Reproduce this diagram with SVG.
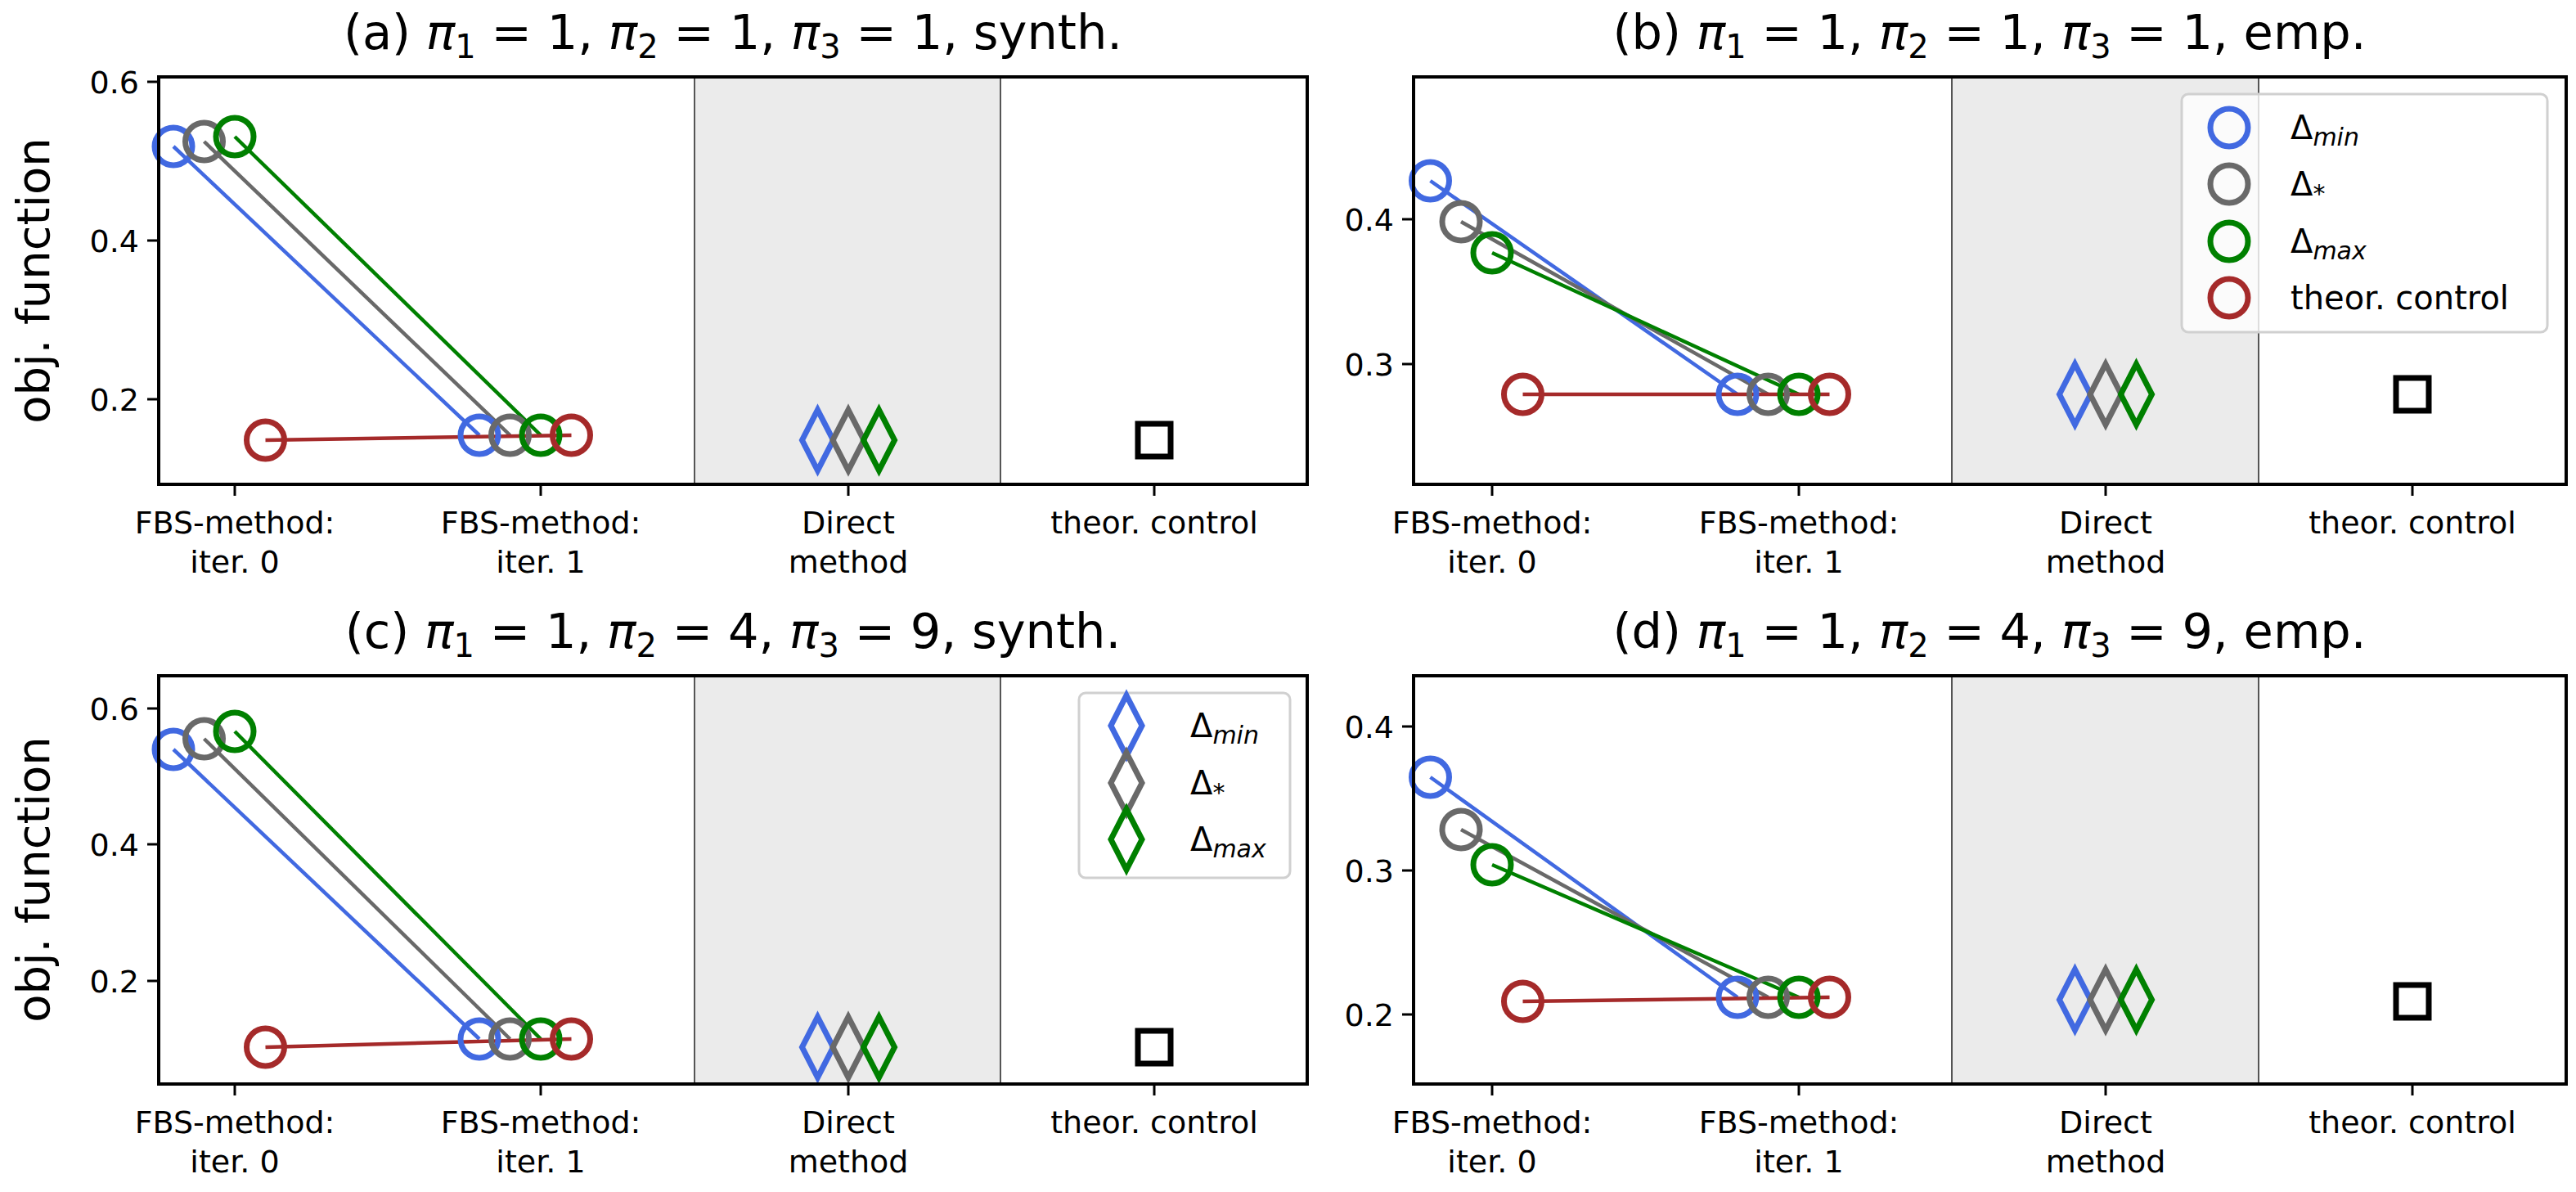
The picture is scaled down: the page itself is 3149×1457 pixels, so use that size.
<svg xmlns="http://www.w3.org/2000/svg" width="3149" height="1457" viewBox="0 0 3149 1457">
<style>
text{font-family:"DejaVu Sans","Liberation Sans",sans-serif;fill:#000}
.title{font-size:59px;text-anchor:middle}
.tick{font-size:38px}
.yt{text-anchor:end}
.xt{text-anchor:middle}
.ylab{font-size:56px;text-anchor:middle}
.leg{font-size:40px}
.spine{fill:none;stroke:#000;stroke-width:4}
.tk{stroke:#000;stroke-width:3}
.band{fill:#ebebeb}
.vl{stroke:#555;stroke-width:2}
.ln{stroke-width:4.5;fill:none}
.mk{fill:none;stroke-width:7}
.b{stroke:#4169E1}.g{stroke:#696969}.gr{stroke:#008000}.r{stroke:#A52A2A}.k{stroke:#000}
.lbox{fill:#fff;fill-opacity:0.8;stroke:#d0d0d0;stroke-width:3}
</style>
<defs>
<circle id="c" r="23"/>
<path id="d" d="M0,-37 L19,0 L0,37 L-19,0Z"/>
<rect id="s" x="-20" y="-20" width="40" height="40"/>
</defs>
<rect width="3149" height="1457" fill="#fff"/>

<g id="panel-a">
<rect class="band" x="849" y="94" width="374" height="498"/>
<line class="vl" x1="849" y1="94" x2="849" y2="592"/><line class="vl" x1="1223" y1="94" x2="1223" y2="592"/>
<text class="title" x="896" y="60">(a) <tspan font-style="italic">π</tspan><tspan font-size="40" dy="11">1</tspan><tspan dy="-11"> = 1, </tspan><tspan font-style="italic">π</tspan><tspan font-size="40" dy="11">2</tspan><tspan dy="-11"> = 1, </tspan><tspan font-style="italic">π</tspan><tspan font-size="40" dy="11">3</tspan><tspan dy="-11"> = 1,  synth.</tspan></text>
<g class="tick yt"><text x="170" y="114">0.6</text><text x="170" y="308">0.4</text><text x="170" y="502">0.2</text></g>
<line class="tk" x1="180" y1="100" x2="194" y2="100"/><line class="tk" x1="180" y1="294" x2="194" y2="294"/><line class="tk" x1="180" y1="488" x2="194" y2="488"/>
<text class="ylab" transform="translate(60,343) rotate(-90)">obj. function</text>
<g class="tick xt"><text x="287" y="652">FBS-method:</text><text x="287" y="700">iter. 0</text><text x="661" y="652">FBS-method:</text><text x="661" y="700">iter. 1</text><text x="1037" y="652">Direct</text><text x="1037" y="700">method</text><text x="1411" y="652">theor. control</text></g>
<line class="tk" x1="287" y1="592" x2="287" y2="606"/><line class="tk" x1="661" y1="592" x2="661" y2="606"/><line class="tk" x1="1037" y1="592" x2="1037" y2="606"/><line class="tk" x1="1411" y1="592" x2="1411" y2="606"/>
<use href="#d" class="mk b" x="999.5" y="538" stroke-width="4.5"/><use href="#d" class="mk g" x="1037" y="538" stroke-width="4.5"/><use href="#d" class="mk gr" x="1074.5" y="538" stroke-width="4.5"/>
<use href="#s" class="mk k" x="1411" y="538" stroke-width="7"/>
</g>

<g id="panel-b">
<rect class="band" x="2386" y="94" width="375" height="498"/>
<line class="vl" x1="2386" y1="94" x2="2386" y2="592"/><line class="vl" x1="2761" y1="94" x2="2761" y2="592"/>
<text class="title" x="2432" y="60">(b) <tspan font-style="italic">π</tspan><tspan font-size="40" dy="11">1</tspan><tspan dy="-11"> = 1, </tspan><tspan font-style="italic">π</tspan><tspan font-size="40" dy="11">2</tspan><tspan dy="-11"> = 1, </tspan><tspan font-style="italic">π</tspan><tspan font-size="40" dy="11">3</tspan><tspan dy="-11"> = 1,  emp.</tspan></text>
<g class="tick yt"><text x="1704" y="282">0.4</text><text x="1704" y="459">0.3</text></g>
<line class="tk" x1="1714" y1="268" x2="1728" y2="268"/><line class="tk" x1="1714" y1="445" x2="1728" y2="445"/>
<g class="tick xt"><text x="1824" y="652">FBS-method:</text><text x="1824" y="700">iter. 0</text><text x="2199" y="652">FBS-method:</text><text x="2199" y="700">iter. 1</text><text x="2574" y="652">Direct</text><text x="2574" y="700">method</text><text x="2949" y="652">theor. control</text></g>
<line class="tk" x1="1824" y1="592" x2="1824" y2="606"/><line class="tk" x1="2199" y1="592" x2="2199" y2="606"/><line class="tk" x1="2574" y1="592" x2="2574" y2="606"/><line class="tk" x1="2949" y1="592" x2="2949" y2="606"/>
<use href="#d" class="mk b" x="2536.5" y="482" stroke-width="4.5"/><use href="#d" class="mk g" x="2574" y="482" stroke-width="4.5"/><use href="#d" class="mk gr" x="2611.5" y="482" stroke-width="4.5"/>
<use href="#s" class="mk k" x="2949" y="482" stroke-width="7"/>
</g>

<g id="panel-c">
<rect class="band" x="849" y="826" width="374" height="499"/>
<line class="vl" x1="849" y1="826" x2="849" y2="1325"/><line class="vl" x1="1223" y1="826" x2="1223" y2="1325"/>
<text class="title" x="896" y="792">(c) <tspan font-style="italic">π</tspan><tspan font-size="40" dy="11">1</tspan><tspan dy="-11"> = 1, </tspan><tspan font-style="italic">π</tspan><tspan font-size="40" dy="11">2</tspan><tspan dy="-11"> = 4, </tspan><tspan font-style="italic">π</tspan><tspan font-size="40" dy="11">3</tspan><tspan dy="-11"> = 9,  synth.</tspan></text>
<g class="tick yt"><text x="170" y="880">0.6</text><text x="170" y="1046">0.4</text><text x="170" y="1213">0.2</text></g>
<line class="tk" x1="180" y1="866" x2="194" y2="866"/><line class="tk" x1="180" y1="1032" x2="194" y2="1032"/><line class="tk" x1="180" y1="1199" x2="194" y2="1199"/>
<text class="ylab" transform="translate(60,1075) rotate(-90)">obj. function</text>
<g class="tick xt"><text x="287" y="1385">FBS-method:</text><text x="287" y="1433">iter. 0</text><text x="661" y="1385">FBS-method:</text><text x="661" y="1433">iter. 1</text><text x="1037" y="1385">Direct</text><text x="1037" y="1433">method</text><text x="1411" y="1385">theor. control</text></g>
<line class="tk" x1="287" y1="1325" x2="287" y2="1339"/><line class="tk" x1="661" y1="1325" x2="661" y2="1339"/><line class="tk" x1="1037" y1="1325" x2="1037" y2="1339"/><line class="tk" x1="1411" y1="1325" x2="1411" y2="1339"/>
<use href="#d" class="mk b" x="999.5" y="1280" stroke-width="4.5"/><use href="#d" class="mk g" x="1037" y="1280" stroke-width="4.5"/><use href="#d" class="mk gr" x="1074.5" y="1280" stroke-width="4.5"/>
<use href="#s" class="mk k" x="1411" y="1280" stroke-width="7"/>
</g>

<g id="panel-d">
<rect class="band" x="2386" y="826" width="375" height="499"/>
<line class="vl" x1="2386" y1="826" x2="2386" y2="1325"/><line class="vl" x1="2761" y1="826" x2="2761" y2="1325"/>
<text class="title" x="2432" y="792">(d) <tspan font-style="italic">π</tspan><tspan font-size="40" dy="11">1</tspan><tspan dy="-11"> = 1, </tspan><tspan font-style="italic">π</tspan><tspan font-size="40" dy="11">2</tspan><tspan dy="-11"> = 4, </tspan><tspan font-style="italic">π</tspan><tspan font-size="40" dy="11">3</tspan><tspan dy="-11"> = 9,  emp.</tspan></text>
<g class="tick yt"><text x="1704" y="902">0.4</text><text x="1704" y="1078">0.3</text><text x="1704" y="1254">0.2</text></g>
<line class="tk" x1="1714" y1="888" x2="1728" y2="888"/><line class="tk" x1="1714" y1="1064" x2="1728" y2="1064"/><line class="tk" x1="1714" y1="1240" x2="1728" y2="1240"/>
<g class="tick xt"><text x="1824" y="1385">FBS-method:</text><text x="1824" y="1433">iter. 0</text><text x="2199" y="1385">FBS-method:</text><text x="2199" y="1433">iter. 1</text><text x="2574" y="1385">Direct</text><text x="2574" y="1433">method</text><text x="2949" y="1385">theor. control</text></g>
<line class="tk" x1="1824" y1="1325" x2="1824" y2="1339"/><line class="tk" x1="2199" y1="1325" x2="2199" y2="1339"/><line class="tk" x1="2574" y1="1325" x2="2574" y2="1339"/><line class="tk" x1="2949" y1="1325" x2="2949" y2="1339"/>
<use href="#d" class="mk b" x="2536.5" y="1222" stroke-width="4.5"/><use href="#d" class="mk g" x="2574" y="1222" stroke-width="4.5"/><use href="#d" class="mk gr" x="2611.5" y="1222" stroke-width="4.5"/>
<use href="#s" class="mk k" x="2949" y="1224" stroke-width="7"/>
</g>

<g id="connectors">
<line class="ln b" x1="212" y1="179" x2="586" y2="532"/><line class="ln g" x1="249.5" y1="173" x2="623.5" y2="532"/><line class="ln gr" x1="287" y1="167" x2="661" y2="532"/><line class="ln r" stroke-width="6" x1="324.5" y1="538" x2="698.5" y2="532"/>
<line class="ln b" x1="1748.5" y1="221" x2="2124" y2="482"/><line class="ln g" x1="1786" y1="271" x2="2161.5" y2="482"/><line class="ln gr" x1="1824" y1="309" x2="2199" y2="482"/><line class="ln r" stroke-width="6" x1="1861.5" y1="482" x2="2236.5" y2="482"/>
<line class="ln b" x1="212" y1="916" x2="586" y2="1270"/><line class="ln g" x1="249.5" y1="903" x2="623.5" y2="1270"/><line class="ln gr" x1="287" y1="894" x2="661" y2="1270"/><line class="ln r" stroke-width="6" x1="324.5" y1="1280" x2="698.5" y2="1270"/>
<line class="ln b" x1="1748.5" y1="950" x2="2124" y2="1219"/><line class="ln g" x1="1786" y1="1014" x2="2161.5" y2="1219"/><line class="ln gr" x1="1824" y1="1057" x2="2199" y2="1219"/><line class="ln r" stroke-width="6" x1="1861.5" y1="1224" x2="2236.5" y2="1219"/>
</g>

<g id="markers">
<use href="#c" class="mk b" x="212" y="179"/><use href="#c" class="mk g" x="249.5" y="173"/><use href="#c" class="mk gr" x="287" y="167"/>
<use href="#c" class="mk b" x="586" y="532"/><use href="#c" class="mk g" x="623.5" y="532"/><use href="#c" class="mk gr" x="661" y="532"/><use href="#c" class="mk r" x="698.5" y="532"/><use href="#c" class="mk r" x="324.5" y="538"/>
<use href="#c" class="mk b" x="1748.5" y="221"/><use href="#c" class="mk g" x="1786" y="271"/><use href="#c" class="mk gr" x="1824" y="309"/>
<use href="#c" class="mk b" x="2124" y="482"/><use href="#c" class="mk g" x="2161.5" y="482"/><use href="#c" class="mk gr" x="2199" y="482"/><use href="#c" class="mk r" x="2236.5" y="482"/><use href="#c" class="mk r" x="1861.5" y="482"/>
<use href="#c" class="mk b" x="212" y="916"/><use href="#c" class="mk g" x="249.5" y="903"/><use href="#c" class="mk gr" x="287" y="894"/>
<use href="#c" class="mk b" x="586" y="1270"/><use href="#c" class="mk g" x="623.5" y="1270"/><use href="#c" class="mk gr" x="661" y="1270"/><use href="#c" class="mk r" x="698.5" y="1270"/><use href="#c" class="mk r" x="324.5" y="1280"/>
<use href="#c" class="mk b" x="1748.5" y="950"/><use href="#c" class="mk g" x="1786" y="1014"/><use href="#c" class="mk gr" x="1824" y="1057"/>
<use href="#c" class="mk b" x="2124" y="1219"/><use href="#c" class="mk g" x="2161.5" y="1219"/><use href="#c" class="mk gr" x="2199" y="1219"/><use href="#c" class="mk r" x="2236.5" y="1219"/><use href="#c" class="mk r" x="1861.5" y="1224"/>
</g>

<g id="legend-b">
<rect class="lbox" x="2667" y="115" width="447" height="291" rx="8"/>
<use href="#c" class="mk b" x="2725" y="156"/><use href="#c" class="mk g" x="2725" y="225"/><use href="#c" class="mk gr" x="2725" y="295"/><use href="#c" class="mk r" x="2725" y="364"/>
<text class="leg" x="2800" y="170">Δ<tspan font-size="30" font-style="italic" dy="8">min</tspan></text>
<text class="leg" x="2800" y="239">Δ<tspan font-size="30" dy="8">*</tspan></text>
<text class="leg" x="2800" y="309">Δ<tspan font-size="30" font-style="italic" dy="8">max</tspan></text>
<text class="leg" x="2800" y="378">theor. control</text>
</g>

<g id="legend-c">
<rect class="lbox" x="1319" y="847" width="258" height="226" rx="8"/>
<use href="#d" class="mk b" x="1377" y="887" stroke-width="4.5"/><use href="#d" class="mk g" x="1377" y="957" stroke-width="4.5"/><use href="#d" class="mk gr" x="1377" y="1026" stroke-width="4.5"/>
<text class="leg" x="1455" y="901">Δ<tspan font-size="30" font-style="italic" dy="8">min</tspan></text>
<text class="leg" x="1455" y="971">Δ<tspan font-size="30" dy="8">*</tspan></text>
<text class="leg" x="1455" y="1040">Δ<tspan font-size="30" font-style="italic" dy="8">max</tspan></text>
</g>

<g id="spines">
<rect class="spine" x="194" y="94" width="1404" height="498"/>
<rect class="spine" x="1728" y="94" width="1409" height="498"/>
<rect class="spine" x="194" y="826" width="1404" height="499"/>
<rect class="spine" x="1728" y="826" width="1409" height="499"/>
</g>
</svg>
